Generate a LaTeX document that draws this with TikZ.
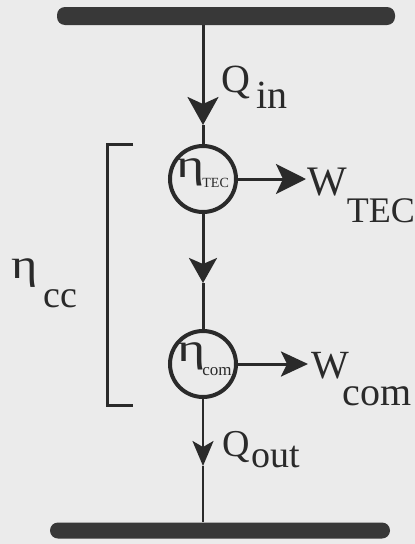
\documentclass[tikz,border=0pt]{standalone}
\usepackage{fontspec}
\setmainfont{Liberation Serif}
\usetikzlibrary{arrows.meta}
\definecolor{ink}{HTML}{2A2A2A}
\definecolor{barink}{HTML}{383838}
\definecolor{paper}{HTML}{EBEBEB}
\newcommand{\fs}[1]{\fontsize{#1}{#1}\selectfont}
\newcommand{\weta}[1]{\scalebox{1.35}[1]{\fs{#1}η}}
\begin{document}
\begin{tikzpicture}[x=1pt,y=-1pt,
  bar/.style={fill=barink, rounded corners=8pt, inner sep=0pt, draw=none},
  flow/.style={draw=ink, line width=3pt},
  thinflow/.style={draw=ink, line width=2.4pt},
  bigtip/.style={-{Stealth[length=28pt,width=31pt,inset=7pt]}},
  midtip/.style={-{Stealth[length=25pt,width=28pt,inset=6pt]}},
  smalltip/.style={-{Stealth[length=25pt,width=21pt,inset=6pt]}},
  htip/.style={-{Stealth[length=30pt,width=30pt,inset=7pt]}},
  htiptwo/.style={-{Stealth[length=27pt,width=25pt,inset=6pt]}},
  proc/.style={circle, draw=ink, line width=4pt, minimum size=66pt, inner sep=0pt},
  lbl/.style={text=ink, inner sep=0pt, anchor=base west},
  brk/.style={draw=ink, line width=3pt}]
\fill[paper] (0,0) rectangle (415,544);
\useasboundingbox (0,0) rectangle (415,544);
% reservoirs
\node[bar, minimum width=338pt, minimum height=18pt] (top) at (226,16) {};
\node[bar, minimum width=340pt, minimum height=16pt] (bot) at (220,530.5) {};
% processes
\node[proc] (tec) at (203,179) {};
\node[proc] (com) at (203,364) {};
\node[lbl] (etatec) at (176,177) {\weta{40}\hspace{-2pt}\raisebox{-10pt}{\fs{14}TEC}};
\node[lbl] (etacom) at (177,361) {\weta{40}\hspace{-3pt}\raisebox{-14pt}{\fs{17}com}};
% coordinates
\coordinate (qin) at (203,125);
\coordinate (mid) at (203,283);
\coordinate (qout) at (203,466);
\coordinate (wtec) at (306,181);
\coordinate (wcom) at (308,363);
% flows
\draw[flow, bigtip] (top.south -| tec) -- (qin);
\draw[flow] (qin) -- (tec.north);
\draw[flow, midtip] (tec.south) -- (mid);
\draw[flow] (mid) -- (com.north);
\draw[thinflow, smalltip] (com.south) -- (qout);
\draw[thinflow] (qout) -- (bot.north -| com);
\draw[flow, htip] (tec.east) -- (tec.east -| wtec);
\draw[flow, htiptwo] (com.east) -- (com.east -| wcom);
% labels
\node[lbl] (qinl) at (221,92) {\fs{40}Q\hspace{6pt}\raisebox{-16pt}{in}};
\node[lbl] (wtecl) at (307,195) {\fs{42}W\raisebox{-27pt}{\fs{36}TEC}};
\node[lbl] (wcoml) at (311,378) {\fs{40}W\hspace{-6pt}\raisebox{-27pt}{com}};
\node[lbl] (qoutl) at (222,456) {\fs{38}Q\hspace{2pt}\raisebox{-11pt}{out}};
\node[lbl] (etacc) at (11,278) {\scalebox{1.2}[1]{\fs{42}η}\hspace{6pt}\raisebox{-29pt}{\fs{38}cc}};
% bracket
\draw[brk] (133,144) -- (107,144) -- (107,405) -- (133,405);
\end{tikzpicture}
\end{document}
